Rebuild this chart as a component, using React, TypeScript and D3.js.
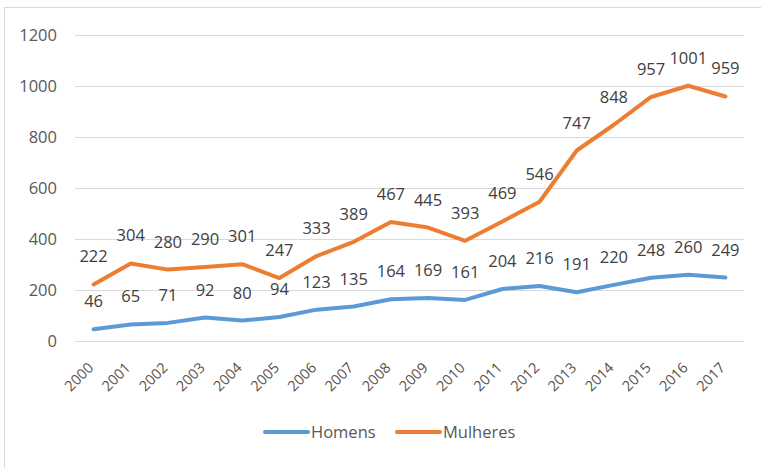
import React, { useEffect, useRef } from 'react';
import * as d3 from 'd3';

const years = ['2000', '2001', '2002', '2003', '2004', '2005', '2006', '2007', '2008',
  '2009', '2010', '2011', '2012', '2013', '2014', '2015', '2016', '2017'];
const homens = [46, 65, 71, 92, 80, 94, 123, 135, 164, 169, 161, 204, 216, 191, 220, 248, 260, 249];
const mulheres = [222, 304, 280, 290, 301, 247, 333, 389, 467, 445, 393, 469, 546, 747, 848, 957, 1001, 959];
const yTicks = [0, 200, 400, 600, 800, 1000, 1200];

const series = [
  { name: 'Homens', values: homens, color: '#5B9BD5' },
  { name: 'Mulheres', values: mulheres, color: '#ED7D31' },
];

const font = '"Open Sans", sans-serif';

export default function App() {
  const ref = useRef<SVGSVGElement>(null);

  useEffect(() => {
    const svg = d3.select(ref.current);
    svg.selectAll('*').remove();

    // chart frame (only top and left edges visible in the picture)
    svg.append('rect')
      .attr('x', 4.5).attr('y', 7.5)
      .attr('width', 900).attr('height', 600)
      .attr('fill', 'white')
      .attr('stroke', '#d9d9d9');

    const x = d3.scaleBand().domain(years).range([75, 744]);
    const y = d3.scaleLinear().domain([0, 1200]).range([341, 35]);
    const cx = (d: string) => (x(d) as number) + x.bandwidth() / 2;

    // gridlines
    svg.append('g')
      .selectAll('line')
      .data(yTicks)
      .enter()
      .append('line')
      .attr('x1', 75).attr('x2', 744)
      .attr('y1', d => y(d) + 0.5).attr('y2', d => y(d) + 0.5)
      .attr('stroke', '#d9d9d9')
      .attr('stroke-width', 1);

    // y tick labels
    svg.append('g')
      .selectAll('text')
      .data(yTicks)
      .enter()
      .append('text')
      .attr('x', 57)
      .attr('y', d => y(d))
      .attr('dy', '0.36em')
      .attr('text-anchor', 'end')
      .attr('fill', '#595959')
      .style('font-family', font)
      .style('font-size', '16.5px')
      .text(d => d);

    // x tick labels, rotated
    svg.append('g')
      .selectAll('text')
      .data(years)
      .enter()
      .append('text')
      .attr('transform', d => `translate(${cx(d) - 3}, ${365}) rotate(-45)`)
      .attr('text-anchor', 'end')
      .attr('dy', '0.36em')
      .attr('fill', '#5a4f4b')
      .style('font-family', font)
      .style('font-size', '14.5px')
      .text(d => d);

    const line = d3.line<number>()
      .x((d, i) => cx(years[i]))
      .y(d => y(d));

    series.forEach(s => {
      svg.append('path')
        .datum(s.values)
        .attr('d', line)
        .attr('fill', 'none')
        .attr('stroke', s.color)
        .attr('stroke-width', 4)
        .attr('stroke-linejoin', 'round')
        .attr('stroke-linecap', 'round');
    });

    // data labels above points
    series.forEach(s => {
      svg.append('g')
        .selectAll('text')
        .data(s.values)
        .enter()
        .append('text')
        .attr('x', (d, i) => cx(years[i]))
        .attr('y', d => y(d) - 22)
        .attr('text-anchor', 'middle')
        .attr('fill', '#404040')
        .style('font-family', font)
        .style('font-size', '16.5px')
        .text(d => d);
    });

    // legend
    const legend = svg.append('g');
    const items = [
      { x1: 265, x2: 308, tx: 311 },
      { x1: 397, x2: 440, tx: 443 },
    ];
    series.forEach((s, i) => {
      const it = items[i];
      legend.append('line')
        .attr('x1', it.x1).attr('x2', it.x2)
        .attr('y1', 432).attr('y2', 432)
        .attr('stroke', s.color)
        .attr('stroke-width', 4)
        .attr('stroke-linecap', 'round');
      legend.append('text')
        .attr('x', it.tx).attr('y', 432)
        .attr('dy', '0.36em')
        .attr('fill', '#595959')
        .style('font-family', font)
        .style('font-size', '16.5px')
        .text(s.name);
    });
  }, []);

  return (
    <svg ref={ref} width={761} height={468}
      style={{ position: 'absolute', left: 0, top: 0, background: 'white' }} />
  );
}
